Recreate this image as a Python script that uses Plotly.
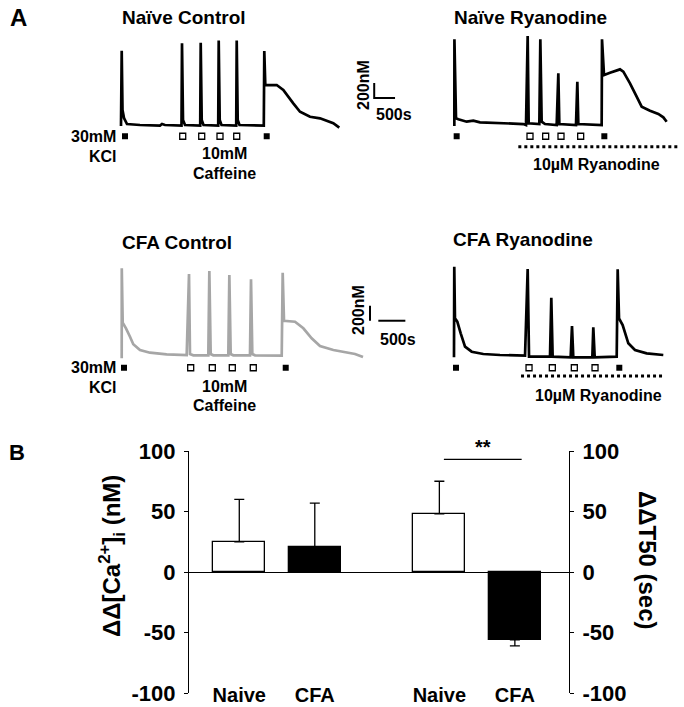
import plotly.graph_objects as go

W, H = 684, 707
FONT = "Liberation Sans, Arial, sans-serif"

# ---------------- Panel A: example traces (time in s, [Ca2+]i in nM) ----------------
nc_t = [0, 17, 36, 72, 144, 456, 936, 984, 1056, 1452, 1464, 1488, 1536, 1901, 1913, 1937, 1980,
        2333, 2345, 2369, 2412, 2765, 2777, 2801, 2844, 3427, 3439, 3463, 3737, 3895, 4135, 4296,
        4536, 4776, 5095, 5239]
nc_c = [87, 1090, 300, 193, 113, 100, 93, 113, 100, 93, 1189, 167, 100, 93, 1198, 167, 100,
        93, 1225, 167, 100, 93, 1225, 167, 100, 93, 1086, 633, 633, 567, 389, 277,
        210, 189, 123, 64]

nr_t = [8, 10, 48, 104, 304, 464, 624, 1104, 1664, 1728, 1768, 1792, 2048, 2072, 2104, 2184, 2464,
        2504, 2528, 2928, 2960, 2984, 3544, 3552, 3600, 3744, 3864, 3984, 4064, 4224, 4384, 4504,
        4704, 4904, 5024, 5104]
nr_c = [87, 1242, 189, 176, 144, 157, 136, 123, 113, 100, 1286, 123, 113, 1242, 144, 113, 100,
        789, 113, 100, 677, 113, 100, 1242, 767, 797, 824, 842, 811, 656, 478, 344,
        291, 247, 202, 144]

cc_t = [4, 5, 22, 83, 157, 218, 342, 527, 836, 1206, 1249, 1267, 1329, 1606, 1625, 1650, 1699,
        1976, 1995, 2020, 2069, 2377, 2396, 2420, 2470, 2964, 2982, 3006, 3210, 3364, 3518, 3672,
        3919, 4135, 4320, 4468]
cc_c = [56, 1256, 531, 456, 344, 243, 167, 131, 109, 100, 1180, 113, 96, 96, 1220, 113, 96,
        96, 1166, 113, 96, 96, 1109, 113, 96, 91, 1197, 557, 544, 456, 323, 220,
        167, 140, 113, 73]

cr_t = [0, 5, 18, 61, 124, 204, 327, 542, 851, 1314, 1363, 1388, 1776, 1800, 1825, 2158, 2183,
        2207, 2559, 2577, 2603, 3010, 3028, 3053, 3120, 3225, 3348, 3564, 3872]
cr_c = [69, 1277, 589, 544, 389, 211, 144, 113, 100, 91, 1247, 78, 78, 864, 78, 69, 487,
        69, 69, 469, 69, 78, 1242, 589, 500, 256, 167, 122, 100]

# stimulus timing (s)
nc_kcl = [96, 3497]
nc_caf = [1481, 1937, 2376, 2777]
nr_kcl = [64, 3608]
nr_caf = [1824, 2200, 2568, 3040]
nr_ryan = [1544, 5376]
cc_kcl = [46, 3038]
cc_caf = [1280, 1680, 2050, 2438]
cr_kcl = [37, 3058]
cr_caf = [1388, 1819, 2226, 2609]
cr_ryan = [1240, 3872]

scale_t = 500   # s
scale_c = 200   # nM

# ---------------- Panel B: bar chart ----------------
groups = ["Naive", "CFA", "Naive", "CFA"]
values = [25, 21, 48, -56]
errors = [35, 36, 27, 5]
y_ticks = [-100, -50, 0, 50, 100]
y_ticklabels = ["-100", "-50", "0", "50", "100"]

# ---------------- layout helpers ----------------
def fx(px):
    return px / W

def fy(py):
    return 1 - py / H

fig = go.Figure()

BLACK = "#000000"
GRAY = "#a6a6a6"

hidden = dict(visible=False, showgrid=False, zeroline=False, fixedrange=True)
fig.update_layout(
    xaxis=dict(domain=[fx(110), fx(345)], range=[-264, 5376], anchor="y", **hidden),
    yaxis=dict(domain=[fy(150), fy(30)], range=[-233.3, 1366.7], anchor="x", **hidden),
    xaxis2=dict(domain=[fx(355), fx(684)], range=[-2376, 5520], anchor="y2", **hidden),
    yaxis2=dict(domain=[fy(150), fy(30)], range=[-233.3, 1366.7], anchor="x2", **hidden),
    xaxis3=dict(domain=[fx(110), fx(366)], range=[-212.75, 4523.25], anchor="y3", **hidden),
    yaxis3=dict(domain=[fy(380), fy(255)], range=[-233.3, 1433.3], anchor="x3", **hidden),
    xaxis4=dict(domain=[fx(366), fx(684)], range=[-1628, 4255], anchor="y4", **hidden),
    yaxis4=dict(domain=[fy(380), fy(255)], range=[-233.3, 1433.3], anchor="x4", **hidden),
)

def add_line(x, y, xa, ya, color=BLACK, width=2.5, dash=None):
    fig.add_trace(go.Scatter(x=x, y=y, xaxis=xa, yaxis=ya, mode="lines",
                             line=dict(color=color, width=width, dash=dash, shape="linear"),
                             hoverinfo="skip", showlegend=False))

def add_markers(kcl, caf, xa, ya, row):
    fig.add_trace(go.Scatter(x=kcl, y=[row] * len(kcl), xaxis=xa, yaxis=ya, mode="markers",
                             marker=dict(symbol="square", size=6, color=BLACK),
                             hoverinfo="skip", showlegend=False))
    fig.add_trace(go.Scatter(x=caf, y=[row] * len(caf), xaxis=xa, yaxis=ya, mode="markers",
                             marker=dict(symbol="square-open", size=6, color=BLACK,
                                         line=dict(width=1.3, color=BLACK)),
                             hoverinfo="skip", showlegend=False))

# traces
add_line(nc_t, nc_c, "x", "y", width=2.7)
add_line(nr_t, nr_c, "x2", "y2", width=2.7)
add_line(cc_t, cc_c, "x3", "y3", color=GRAY, width=2.7)
add_line(cr_t, cr_c, "x4", "y4", width=2.7)

add_markers(nc_kcl, nc_caf, "x", "y", -50)
add_markers(nr_kcl, nr_caf, "x2", "y2", -50)
add_markers(cc_kcl, cc_caf, "x3", "y3", -70)
add_markers(cr_kcl, cr_caf, "x4", "y4", -70)

# ryanodine application (dotted)
add_line(nr_ryan, [-190, -190], "x2", "y2", width=3, dash="dot")
add_line(cr_ryan, [-180, -180], "x4", "y4", width=3, dash="dot")

# scale bars
sb_t0, sb_c0 = -1915, 460
add_line([sb_t0, sb_t0, sb_t0 + scale_t], [sb_c0 + scale_c, sb_c0, sb_c0], "x2", "y2", width=2)
sb2_t0, sb2_c0 = -1554, 557
add_line([sb2_t0, sb2_t0], [sb2_c0, sb2_c0 + scale_c], "x4", "y4", width=2)
add_line([-1400, -1400 + scale_t], [sb2_c0, sb2_c0], "x4", "y4", width=2)

# ---------------- Panel B ----------------
bar_pos = [1, 2, 3.65, 4.65]
fills = ["white", "black", "white", "black"]
err_plus = [e if v >= 0 else 0 for v, e in zip(values, errors)]
err_minus = [e if v < 0 else 0 for v, e in zip(values, errors)]

fig.add_trace(go.Bar(
    x=bar_pos, y=values, width=0.69, xaxis="x5", yaxis="y5",
    marker=dict(color=fills, line=dict(color=BLACK, width=1.3)),
    error_y=dict(type="data", array=err_plus, arrayminus=err_minus, symmetric=False,
                 color=BLACK, thickness=1.3, width=5),
    hoverinfo="skip", showlegend=False))

# significance bracket
fig.add_trace(go.Scatter(x=[3.71, 4.74], y=[93, 93], xaxis="x5", yaxis="y5", mode="lines",
                         line=dict(color=BLACK, width=1.2), hoverinfo="skip", showlegend=False))

tickfont = dict(family=FONT, size=22, color=BLACK, weight="bold")
fig.update_layout(
    xaxis5=dict(domain=[fx(189), fx(569)], range=[0.334, 5.367], anchor="free",
                position=fy(681), showline=False, showgrid=False, zeroline=False,
                tickmode="array", tickvals=bar_pos, ticktext=groups, ticks="",
                tickfont=dict(family=FONT, size=20, color=BLACK, weight="bold"),
                fixedrange=True),
    yaxis5=dict(domain=[fy(693), fy(451)], range=[-100, 100], anchor="x5", side="left",
                showline=True, linecolor=BLACK, linewidth=1.3, showgrid=False,
                zeroline=True, zerolinecolor=BLACK, zerolinewidth=1.3,
                tickmode="array", tickvals=y_ticks, ticktext=y_ticklabels,
                ticks="outside", ticklen=4,
                tickwidth=1.3, tickcolor=BLACK, tickfont=tickfont, ticklabelstandoff=4,
                fixedrange=True),
    yaxis6=dict(domain=[fy(693), fy(451)], range=[-100, 100], anchor="x5", overlaying="y5",
                side="right", showline=True, linecolor=BLACK, linewidth=1.3, showgrid=False,
                zeroline=False, tickmode="array", tickvals=y_ticks, ticktext=y_ticklabels,
                ticks="outside",
                ticklen=4, tickwidth=1.3, tickcolor=BLACK, tickfont=tickfont,
                ticklabelstandoff=4, fixedrange=True),
)
# invisible trace so the right axis is drawn
fig.add_trace(go.Scatter(x=[bar_pos[0]], y=[0], xaxis="x5", yaxis="y6", mode="markers",
                         marker=dict(opacity=0), hoverinfo="skip", showlegend=False))

# ---------------- text ----------------
def txt(s, px, py, size=16, angle=0, xanchor="center"):
    fig.add_annotation(text="<b>" + s + "</b>", x=fx(px), y=fy(py), xref="paper", yref="paper",
                       xanchor=xanchor, yanchor="middle", showarrow=False, textangle=angle,
                       font=dict(family=FONT, size=size, color=BLACK))

txt("A", 18, 18, size=24)
txt("Naïve Control", 184, 18, size=19)
txt("Naïve Ryanodine", 530, 17, size=19)
txt("30mM", 118, 136, xanchor="right")
txt("KCl", 103, 156)
txt("10mM", 224, 154)
txt("Caffeine", 224, 173)
txt("200nM", 363, 85, angle=-90)
txt("500s", 394, 115)
txt("10µM Ryanodine", 596, 165)

txt("CFA Control", 177, 242, size=19)
txt("CFA Ryanodine", 523, 239, size=19)
txt("30mM", 118, 367, xanchor="right")
txt("KCl", 103, 387)
txt("10mM", 224, 386)
txt("Caffeine", 224, 405)
txt("200nM", 358, 310, angle=-90)
txt("500s", 398, 339)
txt("10µM Ryanodine", 598, 395)

txt("B", 17, 452, size=22)
txt("**", 483, 447, size=20)
txt("ΔΔ[Ca<sup>2+</sup>]<sub>i</sub> (nM)", 112, 556, size=24, angle=-90)
txt("ΔΔT50 (sec)", 648, 560, size=24, angle=90)

fig.update_layout(
    width=W, height=H, margin=dict(l=0, r=0, t=0, b=0),
    paper_bgcolor="white", plot_bgcolor="rgba(0,0,0,0)",
    template="none", showlegend=False, bargap=0,
    font=dict(family=FONT, color=BLACK),
)

fig.write_html("out.html", config={"displayModeBar": False},
               post_script="document.body.style.margin='0';document.body.style.padding='0';"
                           "document.body.style.overflow='hidden';")
